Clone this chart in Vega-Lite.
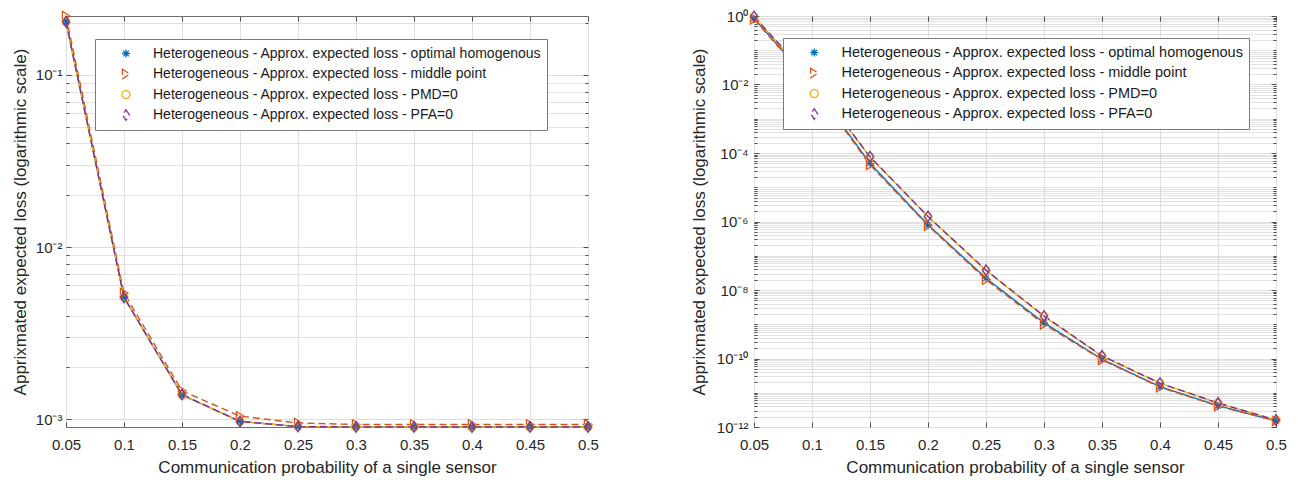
{
  "$schema": "https://vega.github.io/schema/vega-lite/v6.json",
  "padding": {"left": 10, "top": 8, "right": 5, "bottom": 5},
  "spacing": 90,
  "datasets": {
    "left": [
      {"p": 0.05, "series": "Heterogeneous - Approx. expected loss - optimal homogenous", "loss": 0.203},
      {"p": 0.1, "series": "Heterogeneous - Approx. expected loss - optimal homogenous", "loss": 0.0051},
      {"p": 0.15, "series": "Heterogeneous - Approx. expected loss - optimal homogenous", "loss": 0.00138},
      {"p": 0.2, "series": "Heterogeneous - Approx. expected loss - optimal homogenous", "loss": 0.00097},
      {"p": 0.25, "series": "Heterogeneous - Approx. expected loss - optimal homogenous", "loss": 0.000905},
      {"p": 0.3, "series": "Heterogeneous - Approx. expected loss - optimal homogenous", "loss": 0.0009},
      {"p": 0.35, "series": "Heterogeneous - Approx. expected loss - optimal homogenous", "loss": 0.0009},
      {"p": 0.4, "series": "Heterogeneous - Approx. expected loss - optimal homogenous", "loss": 0.0009},
      {"p": 0.45, "series": "Heterogeneous - Approx. expected loss - optimal homogenous", "loss": 0.0009},
      {"p": 0.5, "series": "Heterogeneous - Approx. expected loss - optimal homogenous", "loss": 0.0009},
      {"p": 0.05, "series": "Heterogeneous - Approx. expected loss - middle point", "loss": 0.22},
      {"p": 0.1, "series": "Heterogeneous - Approx. expected loss - middle point", "loss": 0.0054},
      {"p": 0.15, "series": "Heterogeneous - Approx. expected loss - middle point", "loss": 0.00146},
      {"p": 0.2, "series": "Heterogeneous - Approx. expected loss - middle point", "loss": 0.00104},
      {"p": 0.25, "series": "Heterogeneous - Approx. expected loss - middle point", "loss": 0.00095},
      {"p": 0.3, "series": "Heterogeneous - Approx. expected loss - middle point", "loss": 0.00093},
      {"p": 0.35, "series": "Heterogeneous - Approx. expected loss - middle point", "loss": 0.00093},
      {"p": 0.4, "series": "Heterogeneous - Approx. expected loss - middle point", "loss": 0.00093},
      {"p": 0.45, "series": "Heterogeneous - Approx. expected loss - middle point", "loss": 0.00093},
      {"p": 0.5, "series": "Heterogeneous - Approx. expected loss - middle point", "loss": 0.00093},
      {"p": 0.05, "series": "Heterogeneous - Approx. expected loss - PMD=0", "loss": 0.203},
      {"p": 0.1, "series": "Heterogeneous - Approx. expected loss - PMD=0", "loss": 0.0051},
      {"p": 0.15, "series": "Heterogeneous - Approx. expected loss - PMD=0", "loss": 0.00138},
      {"p": 0.2, "series": "Heterogeneous - Approx. expected loss - PMD=0", "loss": 0.00097},
      {"p": 0.25, "series": "Heterogeneous - Approx. expected loss - PMD=0", "loss": 0.000905},
      {"p": 0.3, "series": "Heterogeneous - Approx. expected loss - PMD=0", "loss": 0.0009},
      {"p": 0.35, "series": "Heterogeneous - Approx. expected loss - PMD=0", "loss": 0.0009},
      {"p": 0.4, "series": "Heterogeneous - Approx. expected loss - PMD=0", "loss": 0.0009},
      {"p": 0.45, "series": "Heterogeneous - Approx. expected loss - PMD=0", "loss": 0.0009},
      {"p": 0.5, "series": "Heterogeneous - Approx. expected loss - PMD=0", "loss": 0.0009},
      {"p": 0.05, "series": "Heterogeneous - Approx. expected loss - PFA=0", "loss": 0.204},
      {"p": 0.1, "series": "Heterogeneous - Approx. expected loss - PFA=0", "loss": 0.0051},
      {"p": 0.15, "series": "Heterogeneous - Approx. expected loss - PFA=0", "loss": 0.00139},
      {"p": 0.2, "series": "Heterogeneous - Approx. expected loss - PFA=0", "loss": 0.00097},
      {"p": 0.25, "series": "Heterogeneous - Approx. expected loss - PFA=0", "loss": 0.000905},
      {"p": 0.3, "series": "Heterogeneous - Approx. expected loss - PFA=0", "loss": 0.0009},
      {"p": 0.35, "series": "Heterogeneous - Approx. expected loss - PFA=0", "loss": 0.0009},
      {"p": 0.4, "series": "Heterogeneous - Approx. expected loss - PFA=0", "loss": 0.0009},
      {"p": 0.45, "series": "Heterogeneous - Approx. expected loss - PFA=0", "loss": 0.0009},
      {"p": 0.5, "series": "Heterogeneous - Approx. expected loss - PFA=0", "loss": 0.0009}
    ],
    "right": [
      {"p": 0.05, "series": "Heterogeneous - Approx. expected loss - optimal homogenous", "loss": 0.85},
      {"p": 0.1, "series": "Heterogeneous - Approx. expected loss - optimal homogenous", "loss": 0.0105},
      {"p": 0.15, "series": "Heterogeneous - Approx. expected loss - optimal homogenous", "loss": 5e-5},
      {"p": 0.2, "series": "Heterogeneous - Approx. expected loss - optimal homogenous", "loss": 8e-7},
      {"p": 0.25, "series": "Heterogeneous - Approx. expected loss - optimal homogenous", "loss": 2.2e-8},
      {"p": 0.3, "series": "Heterogeneous - Approx. expected loss - optimal homogenous", "loss": 1.1e-9},
      {"p": 0.35, "series": "Heterogeneous - Approx. expected loss - optimal homogenous", "loss": 9.5e-11},
      {"p": 0.4, "series": "Heterogeneous - Approx. expected loss - optimal homogenous", "loss": 1.5e-11},
      {"p": 0.45, "series": "Heterogeneous - Approx. expected loss - optimal homogenous", "loss": 4.2e-12},
      {"p": 0.5, "series": "Heterogeneous - Approx. expected loss - optimal homogenous", "loss": 1.5e-12},
      {"p": 0.05, "series": "Heterogeneous - Approx. expected loss - middle point", "loss": 0.8},
      {"p": 0.1, "series": "Heterogeneous - Approx. expected loss - middle point", "loss": 0.0098},
      {"p": 0.15, "series": "Heterogeneous - Approx. expected loss - middle point", "loss": 4.5e-5},
      {"p": 0.2, "series": "Heterogeneous - Approx. expected loss - middle point", "loss": 7.6e-7},
      {"p": 0.25, "series": "Heterogeneous - Approx. expected loss - middle point", "loss": 2.0e-8},
      {"p": 0.3, "series": "Heterogeneous - Approx. expected loss - middle point", "loss": 1.0e-9},
      {"p": 0.35, "series": "Heterogeneous - Approx. expected loss - middle point", "loss": 9.2e-11},
      {"p": 0.4, "series": "Heterogeneous - Approx. expected loss - middle point", "loss": 1.45e-11},
      {"p": 0.45, "series": "Heterogeneous - Approx. expected loss - middle point", "loss": 4.1e-12},
      {"p": 0.5, "series": "Heterogeneous - Approx. expected loss - middle point", "loss": 1.5e-12},
      {"p": 0.05, "series": "Heterogeneous - Approx. expected loss - PMD=0", "loss": 0.95},
      {"p": 0.1, "series": "Heterogeneous - Approx. expected loss - PMD=0", "loss": 0.013},
      {"p": 0.15, "series": "Heterogeneous - Approx. expected loss - PMD=0", "loss": 7.6e-5},
      {"p": 0.2, "series": "Heterogeneous - Approx. expected loss - PMD=0", "loss": 1.4e-6},
      {"p": 0.25, "series": "Heterogeneous - Approx. expected loss - PMD=0", "loss": 3.7e-8},
      {"p": 0.3, "series": "Heterogeneous - Approx. expected loss - PMD=0", "loss": 1.7e-9},
      {"p": 0.35, "series": "Heterogeneous - Approx. expected loss - PMD=0", "loss": 1.17e-10},
      {"p": 0.4, "series": "Heterogeneous - Approx. expected loss - PMD=0", "loss": 1.9e-11},
      {"p": 0.45, "series": "Heterogeneous - Approx. expected loss - PMD=0", "loss": 5e-12},
      {"p": 0.5, "series": "Heterogeneous - Approx. expected loss - PMD=0", "loss": 1.6e-12},
      {"p": 0.05, "series": "Heterogeneous - Approx. expected loss - PFA=0", "loss": 0.97},
      {"p": 0.1, "series": "Heterogeneous - Approx. expected loss - PFA=0", "loss": 0.0135},
      {"p": 0.15, "series": "Heterogeneous - Approx. expected loss - PFA=0", "loss": 7.8e-5},
      {"p": 0.2, "series": "Heterogeneous - Approx. expected loss - PFA=0", "loss": 1.4e-6},
      {"p": 0.25, "series": "Heterogeneous - Approx. expected loss - PFA=0", "loss": 3.8e-8},
      {"p": 0.3, "series": "Heterogeneous - Approx. expected loss - PFA=0", "loss": 1.75e-9},
      {"p": 0.35, "series": "Heterogeneous - Approx. expected loss - PFA=0", "loss": 1.2e-10},
      {"p": 0.4, "series": "Heterogeneous - Approx. expected loss - PFA=0", "loss": 1.9e-11},
      {"p": 0.45, "series": "Heterogeneous - Approx. expected loss - PFA=0", "loss": 5e-12},
      {"p": 0.5, "series": "Heterogeneous - Approx. expected loss - PFA=0", "loss": 1.6e-12}
    ]
  },
  "hconcat": [
    {
      "width": 522,
      "height": 411,
      "data": {"name": "left"},
      "layer": [
        {
          "mark": {"type": "line", "strokeWidth": 1.4},
          "encoding": {
            "x": {"field": "p", "type": "quantitative", "scale": {"domain": [0.05, 0.5], "nice": false, "zero": false},
              "axis": {"values": [0.05, 0.1, 0.15, 0.2, 0.25, 0.3, 0.35, 0.4, 0.45, 0.5], "format": ".2~f", "labelFlush": false, "title": "Communication probability of a single sensor", "grid": true, "gridColor": "#e0e0e0", "tickSize": -5, "labelPadding": 15, "titlePadding": 7}},
            "y": {"field": "loss", "type": "quantitative", "scale": {"type": "log", "domain": [0.0009, 0.22], "nice": false},
              "axis": {"values": [0.001, 0.002, 0.003, 0.004, 0.005, 0.006, 0.007, 0.008, 0.009, 0.01, 0.02, 0.03, 0.04, 0.05, 0.06, 0.07, 0.08, 0.09, 0.1, 0.2],
                "labelExpr": "datum.value==0.1?'10⁻¹':datum.value==0.01?'10⁻²':datum.value==0.001?'10⁻³':''",
                "title": "Apprixmated expected loss (logarithmic scale)", "grid": true, "labelPadding": 9, "titlePadding": 6,
                "gridColor": {"condition": {"test": "datum.value==0.001||datum.value==0.01||datum.value==0.1", "value": "#dcdcdc"}, "value": "#c4c4c4"},
                "gridDash": {"condition": {"test": "datum.value==0.001||datum.value==0.01||datum.value==0.1", "value": []}, "value": [1, 1]},
                "tickSize": {"condition": {"test": "datum.value==0.001||datum.value==0.01||datum.value==0.1", "value": -5}, "value": -3}}},
            "color": {"field": "series", "type": "nominal",
              "scale": {"domain": ["Heterogeneous - Approx. expected loss - optimal homogenous", "Heterogeneous - Approx. expected loss - middle point", "Heterogeneous - Approx. expected loss - PMD=0", "Heterogeneous - Approx. expected loss - PFA=0"], "range": ["#0072BD", "#D95319", "#EDB120", "#7E2F8E"]},
              "legend": {"orient": "none", "legendX": 29, "legendY": 23, "title": null, "symbolSize": 64, "symbolOffset": 19, "clipHeight": 19, "rowPadding": 1.5, "labelOffset": 20, "padding": 5, "labelLimit": 600, "labelFontSize": 14, "labelFont": "Liberation Sans", "labelColor": "#1a1a1a", "fillColor": "#ffffff", "strokeColor": "#7a7a7a", "symbolStrokeWidth": 1.3}},
            "strokeDash": {"field": "series", "type": "nominal",
              "scale": {"domain": ["Heterogeneous - Approx. expected loss - optimal homogenous", "Heterogeneous - Approx. expected loss - middle point", "Heterogeneous - Approx. expected loss - PMD=0", "Heterogeneous - Approx. expected loss - PFA=0"], "range": [[1, 0], [7, 4], [1, 0], [7, 4]]},
              "legend": null}
          }
        },
        {
          "mark": {"type": "point", "filled": false, "strokeWidth": 1.2, "size": 64, "opacity": 1},
          "encoding": {
            "x": {"field": "p", "type": "quantitative",
              "axis": {"orient": "top", "values": [0.05, 0.1, 0.15, 0.2, 0.25, 0.3, 0.35, 0.4, 0.45, 0.5], "labels": false, "title": null, "grid": false, "tickSize": -5}},
            "y": {"field": "loss", "type": "quantitative",
              "axis": {"orient": "right", "values": [0.001, 0.002, 0.003, 0.004, 0.005, 0.006, 0.007, 0.008, 0.009, 0.01, 0.02, 0.03, 0.04, 0.05, 0.06, 0.07, 0.08, 0.09, 0.1, 0.2], "labels": false, "title": null, "grid": false,
                "tickSize": {"condition": {"test": "datum.value==0.001||datum.value==0.01||datum.value==0.1", "value": -5}, "value": -3}}},
            "color": {"field": "series", "type": "nominal"},
            "shape": {"field": "series", "type": "nominal",
              "scale": {"domain": ["Heterogeneous - Approx. expected loss - optimal homogenous", "Heterogeneous - Approx. expected loss - middle point", "Heterogeneous - Approx. expected loss - PMD=0", "Heterogeneous - Approx. expected loss - PFA=0"],
                "range": ["M-1,0L1,0M0,-1L0,1M-0.7,-0.7L0.7,0.7M-0.7,0.7L0.7,-0.7", "M-0.9,-1.2L1,0L-0.9,1.2Z", "circle", "M0,-1.35L0.85,0L0,1.35L-0.85,0Z"]},
              "legend": null}
          }
        }
      ],
      "resolve": {"axis": {"x": "independent", "y": "independent"}}
    },
    {
      "width": 522,
      "height": 411,
      "data": {"name": "right"},
      "layer": [
        {
          "mark": {"type": "line", "strokeWidth": 1.4},
          "encoding": {
            "x": {"field": "p", "type": "quantitative", "scale": {"domain": [0.05, 0.5], "nice": false, "zero": false},
              "axis": {"values": [0.05, 0.1, 0.15, 0.2, 0.25, 0.3, 0.35, 0.4, 0.45, 0.5], "format": ".2~f", "labelFlush": false, "title": "Communication probability of a single sensor", "grid": true, "gridColor": "#e0e0e0", "tickSize": -5, "labelPadding": 15, "titlePadding": 7}},
            "y": {"field": "loss", "type": "quantitative", "scale": {"type": "log", "domain": [1e-12, 1], "nice": false},
              "axis": {"values": [1e-12,2e-12,3e-12,4e-12,5e-12,6e-12,7e-12,8e-12,9e-12,1e-11,2e-11,3e-11,4e-11,5e-11,6e-11,7e-11,8e-11,9e-11,1e-10,2e-10,3e-10,4e-10,5e-10,6e-10,7e-10,8e-10,9e-10,1e-9,2e-9,3e-9,4e-9,5e-9,6e-9,7e-9,8e-9,9e-9,1e-8,2e-8,3e-8,4e-8,5e-8,6e-8,7e-8,8e-8,9e-8,1e-7,2e-7,3e-7,4e-7,5e-7,6e-7,7e-7,8e-7,9e-7,1e-6,2e-6,3e-6,4e-6,5e-6,6e-6,7e-6,8e-6,9e-6,1e-5,2e-5,3e-5,4e-5,5e-5,6e-5,7e-5,8e-5,9e-5,1e-4,2e-4,3e-4,4e-4,5e-4,6e-4,7e-4,8e-4,9e-4,0.001,0.002,0.003,0.004,0.005,0.006,0.007,0.008,0.009,0.01,0.02,0.03,0.04,0.05,0.06,0.07,0.08,0.09,0.1,0.2,0.3,0.4,0.5,0.6,0.7,0.8,0.9,1],
                "labelExpr": "datum.value==1?'10⁰':datum.value==0.01?'10⁻²':datum.value==0.0001?'10⁻⁴':datum.value==0.000001?'10⁻⁶':datum.value==1e-8?'10⁻⁸':datum.value==1e-10?'10⁻¹⁰':datum.value==1e-12?'10⁻¹²':''",
                "title": "Apprixmated expected loss (logarithmic scale)", "grid": true, "labelPadding": 11, "titlePadding": 8,
                "gridColor": {"condition": {"test": "datum.value==1||datum.value==0.01||datum.value==0.0001||datum.value==0.000001||datum.value==1e-8||datum.value==1e-10||datum.value==1e-12", "value": "#dcdcdc"}, "value": "#c4c4c4"},
                "gridDash": {"condition": {"test": "datum.value==1||datum.value==0.01||datum.value==0.0001||datum.value==0.000001||datum.value==1e-8||datum.value==1e-10||datum.value==1e-12", "value": []}, "value": [1, 1]},
                "tickSize": {"condition": {"test": "datum.value==1||datum.value==0.01||datum.value==0.0001||datum.value==0.000001||datum.value==1e-8||datum.value==1e-10||datum.value==1e-12", "value": -5}, "value": -3}}},
            "color": {"field": "series", "type": "nominal",
              "scale": {"domain": ["Heterogeneous - Approx. expected loss - optimal homogenous", "Heterogeneous - Approx. expected loss - middle point", "Heterogeneous - Approx. expected loss - PMD=0", "Heterogeneous - Approx. expected loss - PFA=0"], "range": ["#0072BD", "#D95319", "#EDB120", "#7E2F8E"]},
              "legend": {"orient": "none", "legendX": 29, "legendY": 22, "title": null, "symbolSize": 64, "symbolOffset": 19, "clipHeight": 19, "rowPadding": 1.5, "labelOffset": 20, "padding": 5, "labelLimit": 600, "labelFontSize": 14.5, "labelFont": "Liberation Sans", "labelColor": "#1a1a1a", "fillColor": "#ffffff", "strokeColor": "#7a7a7a", "symbolStrokeWidth": 1.3}},
            "strokeDash": {"field": "series", "type": "nominal",
              "scale": {"domain": ["Heterogeneous - Approx. expected loss - optimal homogenous", "Heterogeneous - Approx. expected loss - middle point", "Heterogeneous - Approx. expected loss - PMD=0", "Heterogeneous - Approx. expected loss - PFA=0"], "range": [[1, 0], [7, 4], [1, 0], [7, 4]]},
              "legend": null}
          }
        },
        {
          "mark": {"type": "point", "filled": false, "strokeWidth": 1.2, "size": 64, "opacity": 1},
          "encoding": {
            "x": {"field": "p", "type": "quantitative",
              "axis": {"orient": "top", "values": [0.05, 0.1, 0.15, 0.2, 0.25, 0.3, 0.35, 0.4, 0.45, 0.5], "labels": false, "title": null, "grid": false, "tickSize": -5}},
            "y": {"field": "loss", "type": "quantitative",
              "axis": {"orient": "right", "values": [1e-12,2e-12,3e-12,4e-12,5e-12,6e-12,7e-12,8e-12,9e-12,1e-11,2e-11,3e-11,4e-11,5e-11,6e-11,7e-11,8e-11,9e-11,1e-10,2e-10,3e-10,4e-10,5e-10,6e-10,7e-10,8e-10,9e-10,1e-9,2e-9,3e-9,4e-9,5e-9,6e-9,7e-9,8e-9,9e-9,1e-8,2e-8,3e-8,4e-8,5e-8,6e-8,7e-8,8e-8,9e-8,1e-7,2e-7,3e-7,4e-7,5e-7,6e-7,7e-7,8e-7,9e-7,1e-6,2e-6,3e-6,4e-6,5e-6,6e-6,7e-6,8e-6,9e-6,1e-5,2e-5,3e-5,4e-5,5e-5,6e-5,7e-5,8e-5,9e-5,1e-4,2e-4,3e-4,4e-4,5e-4,6e-4,7e-4,8e-4,9e-4,0.001,0.002,0.003,0.004,0.005,0.006,0.007,0.008,0.009,0.01,0.02,0.03,0.04,0.05,0.06,0.07,0.08,0.09,0.1,0.2,0.3,0.4,0.5,0.6,0.7,0.8,0.9,1], "labels": false, "title": null, "grid": false,
                "tickSize": {"condition": {"test": "datum.value==1||datum.value==0.01||datum.value==0.0001||datum.value==0.000001||datum.value==1e-8||datum.value==1e-10||datum.value==1e-12", "value": -5}, "value": -3}}},
            "color": {"field": "series", "type": "nominal"},
            "shape": {"field": "series", "type": "nominal",
              "scale": {"domain": ["Heterogeneous - Approx. expected loss - optimal homogenous", "Heterogeneous - Approx. expected loss - middle point", "Heterogeneous - Approx. expected loss - PMD=0", "Heterogeneous - Approx. expected loss - PFA=0"],
                "range": ["M-1,0L1,0M0,-1L0,1M-0.7,-0.7L0.7,0.7M-0.7,0.7L0.7,-0.7", "M-0.9,-1.2L1,0L-0.9,1.2Z", "circle", "M0,-1.35L0.85,0L0,1.35L-0.85,0Z"]},
              "legend": null}
          }
        }
      ],
      "resolve": {"axis": {"x": "independent", "y": "independent"}}
    }
  ],
  "resolve": {"scale": {"color": "independent", "shape": "independent", "strokeDash": "independent"}, "legend": {"color": "independent"}},
  "config": {
    "font": "Liberation Sans",
    "view": {"stroke": "#6e6e6e", "strokeWidth": 1},
    "axis": {"labelFont": "Liberation Sans", "labelFontSize": 15, "labelColor": "#262626", "titleFont": "Liberation Sans", "titleFontSize": 17, "titleFontWeight": "normal", "titleColor": "#262626", "tickColor": "#4d4d4d", "domain": false},
    "legend": {"labelFont": "Liberation Sans"}
  }
}
